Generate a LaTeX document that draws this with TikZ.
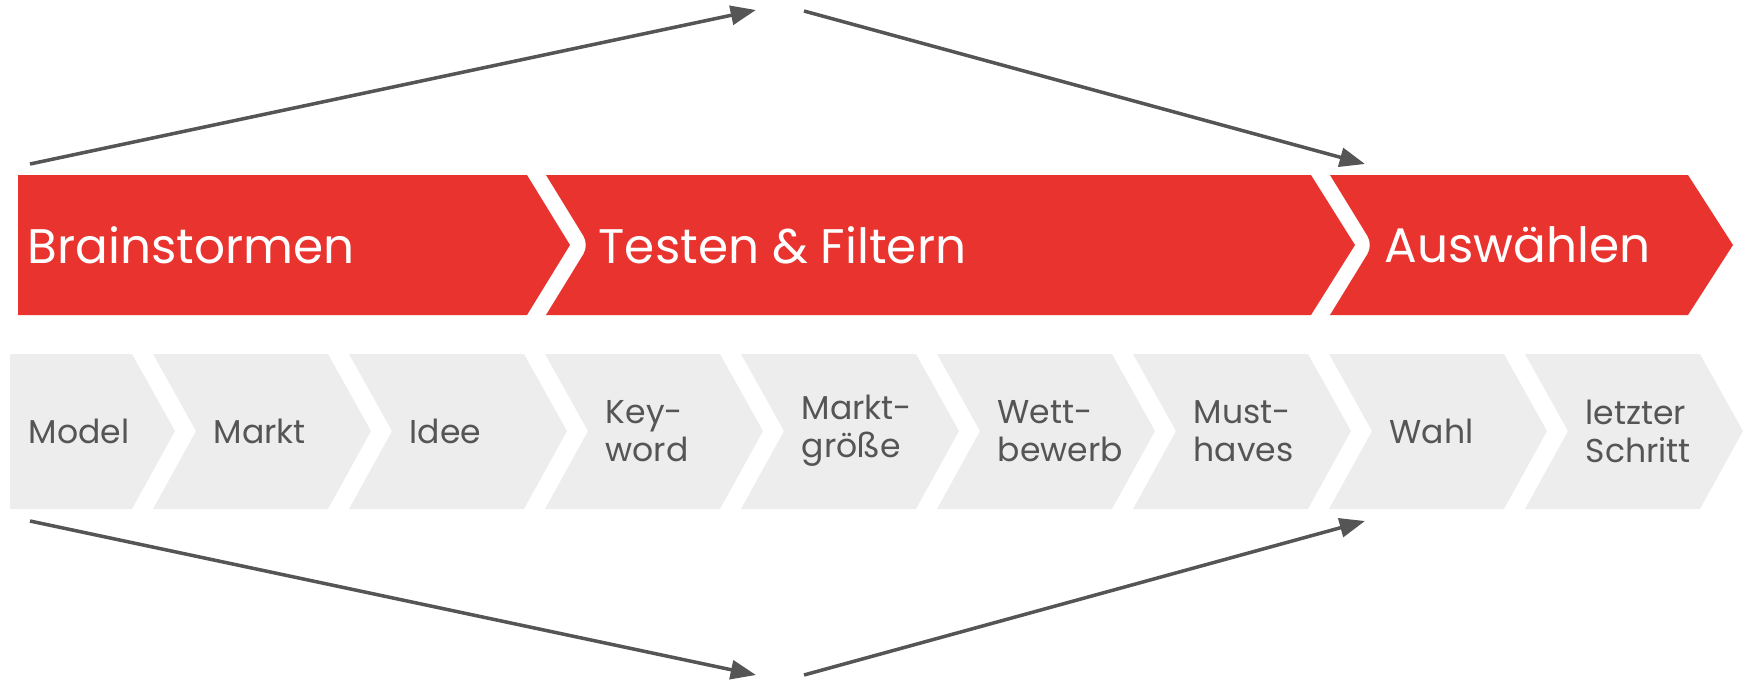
\documentclass[tikz,border=0pt]{standalone}
\usepackage{fontspec}
\setmainfont{Poppins}
\usetikzlibrary{arrows.meta}

\definecolor{rosso}{HTML}{E8332F}
\definecolor{grigio}{HTML}{EDEDED}
\definecolor{scuro}{HTML}{555555}

\tikzset{
  fase/.style={anchor=west, inner sep=0pt, text=white, font=\fontsize{13.8}{16}\selectfont},
  passo/.style={anchor=west, inner sep=0pt, text=scuro, align=left, font=\fontsize{9.4}{10.8}\selectfont},
  freccia/.style={draw=scuro, line width=1pt, -{Triangle[length=7.2pt,width=5.4pt]}}
}

\begin{document}
\begin{tikzpicture}[x=0.01cm, y=-0.01cm]
    \useasboundingbox (0,0) rectangle (1750,681);

    % Fasi principali (chevron rossi)
    \fill[rosso] (18,175) -- (527,175) -- (570,245) -- (527,315) -- (18,315) -- cycle;
    \fill[rosso] (546,175) -- (1311,175) -- (1355,245) -- (1311,315) -- (546,315)
        [rounded corners=3]-- (589,245) [sharp corners]-- cycle;
    \fill[rosso] (1330,175) -- (1688,175) -- (1733,245) -- (1688,315) -- (1330,315)
        [rounded corners=3]-- (1373,245) [sharp corners]-- cycle;

    \node[fase] (brain) at (27,245) {Brainstormen};
    \node[fase] (test) at (598,245) {Testen \& Filtern};
    \node[fase] (wahl) at (1384,245) {Auswählen};

    % Passi (chevron grigi)
    \fill[grigio] (10,354) -- (132,354) -- (175,431) -- (132,509) -- (10,509) -- cycle;
    \foreach \i in {0,...,7} {
        \pgfmathsetmacro{\l}{153+196*\i}
        \fill[grigio] (\l,354) -- ++(175,0) -- ++(43,77) -- ++(-43,78) -- ++(-175,0) -- ++(43,-78) -- cycle;
    }

    \node[passo] (passo0) at (28,431) {Model};
    \foreach \i/\testo in {1/Markt, 2/Idee, 3/{Key-\\word}, 4/{Markt-\\größe},
                          5/{Wett-\\bewerb}, 6/{Must-\\haves}, 7/Wahl, 8/{letzter\\Schritt}} {
        \node[passo] (passo\i) at (153+196*\i-196+60,431) {\testo};
    }

    % Frecce sopra e sotto
    \coordinate (a1) at (30,164);
    \coordinate (a2) at (756,10);
    \coordinate (a3) at (804,11);
    \coordinate (a4) at (1365,164);
    \coordinate (b1) at (30,521);
    \coordinate (b2) at (756,675);
    \coordinate (b3) at (804,675);
    \coordinate (b4) at (1365,521);

    \draw[freccia] (a1) -- (a2);
    \draw[freccia] (a3) -- (a4);
    \draw[freccia] (b1) -- (b2);
    \draw[freccia] (b3) -- (b4);
\end{tikzpicture}
\end{document}
